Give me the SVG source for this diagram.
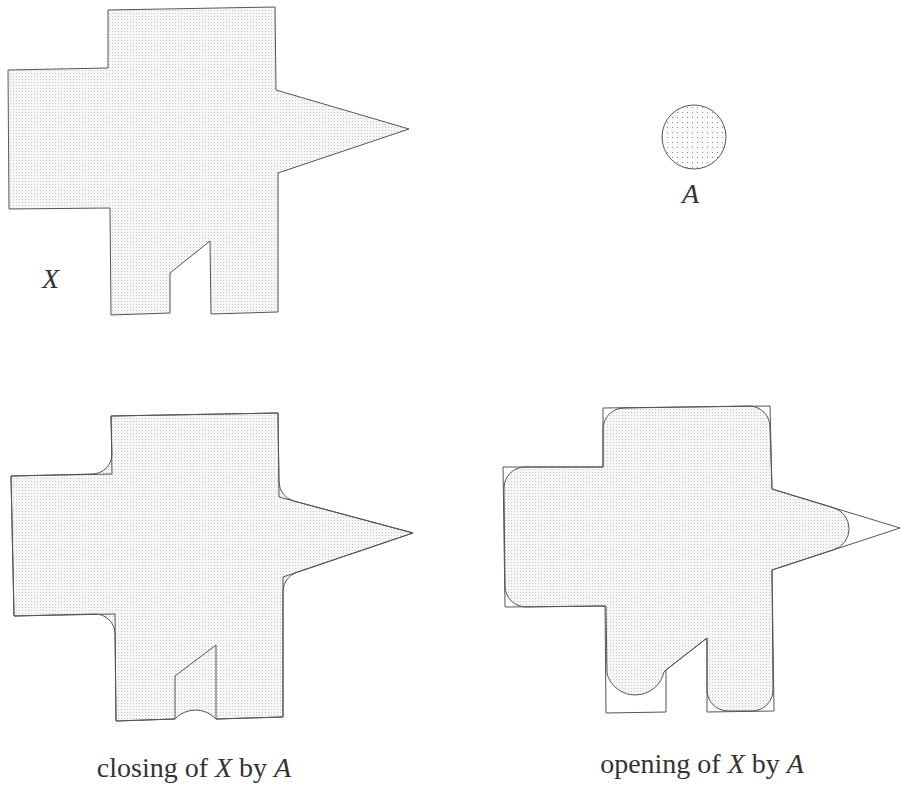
<svg xmlns="http://www.w3.org/2000/svg" width="901" height="787" viewBox="0 0 901 787">
<defs>
<pattern id="dots" width="3" height="3" patternUnits="userSpaceOnUse">
<rect width="3" height="3" fill="#f6f6f6"/>
<rect x="1" y="1" width="1" height="1" fill="#c8c8c8"/>
</pattern>
<pattern id="dotsA" width="5" height="5" patternUnits="userSpaceOnUse">
<rect width="5" height="5" fill="#fafafa"/>
<rect x="2" y="2" width="1" height="1" fill="#888"/>
</pattern>
<style>
.line{fill:none;stroke:#555;stroke-width:1}
.fill{fill:url(#dots);stroke:#555;stroke-width:1}
.lbl{font-family:"Liberation Serif","Times New Roman",serif;font-size:28px;fill:#333}
.it{font-style:italic}
</style>
</defs>
<rect width="901" height="787" fill="#fff"/>
<g id="X">
<path class="fill" d="M108,10 L275,7 L276,90 L409,129 L278,173 L278,312 L211,314 L210,241 L170,273 L170,313 L111,315 L110,208 L9,209 L8,70 L108,68 Z"/>
<text class="lbl it" x="42" y="288">X</text>
</g>
<g id="A">
<circle cx="694" cy="137" r="32" fill="url(#dotsA)" stroke="#555" stroke-width="1"/>
<text class="lbl it" x="682" y="203">A</text>
</g>
<g id="closing">
<path class="fill" d="M111,416 L278,413 L279,481.7 A20,20 0 0,0 293.8,501 L413,533 L296.6,572.4 A20,20 0 0,0 283,591.3 L283,717 L216,719 A28,28 0 0,0 175,719 L116,721 L115,634 A20,20 0 0,0 95,614 L14,616 L11,476 L92,474 A20,20 0 0,0 112,454 Z"/>
<path class="line" d="M111,416 L278,413 L279,497 L413,533 L283,577 L283,717 L216,719 L216,645 L175,676 L175,719 L116,721 L115,614 L14,616 L11,476 L112,474 Z"/>
<text class="lbl" x="194" y="777" text-anchor="middle">closing of <tspan class="it">X</tspan> by <tspan class="it">A</tspan></text>
</g>
<g id="opening">
<path class="fill" d="M603,429 A21,21 0 0,1 624,408 L749,406 A21,21 0 0,1 770,427 L772,489 L833,507.6 A22,22 0 0,1 833,550 L772,570 L773,690 A21,21 0 0,1 752,711 L728,711 A21,21 0 0,1 707,690 L707,638 L666,670 L664,672 A29.5,29.5 0 0,1 607,674 L606,606 L526,607 A21,21 0 0,1 505,586 L504,488 A21,21 0 0,1 525,467 L603,467 Z"/>
<path class="line" d="M603,408 L770,406 L772,489 L900,528 L772,570 L774,711 L707,712 L707,638 L666,670 L666,712 L606,713 L605,606 L505,607 L503,467 L603,467 Z"/>
<text class="lbl" x="702" y="773" text-anchor="middle">opening of <tspan class="it">X</tspan> by <tspan class="it">A</tspan></text>
</g>
<g id="connectors"></g>
</svg>
